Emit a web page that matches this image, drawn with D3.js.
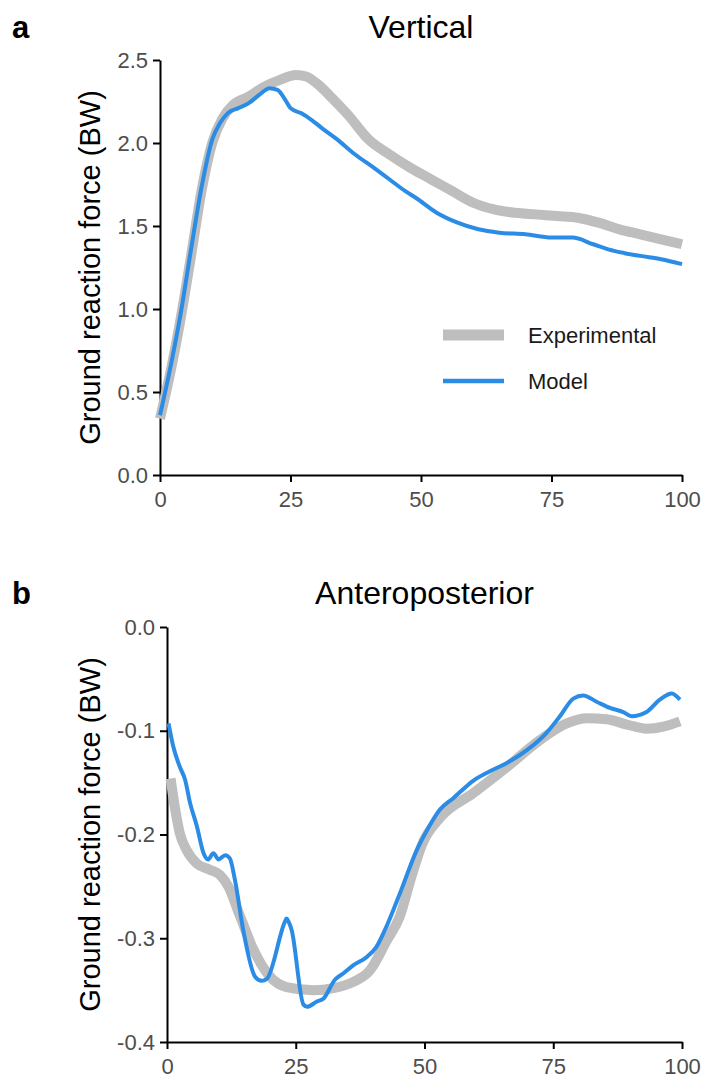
<!DOCTYPE html>
<html>
<head>
<meta charset="utf-8">
<script src="https://cdn.jsdelivr.net/npm/d3@7"></script>
<style>
  body { margin: 0; background: #fff; }
  svg { display: block; font-family: 'Liberation Sans', Arial, sans-serif; }
</style>
</head>
<body>
<div id="chart"></div>
<script>
// x ticks shared by both panels (% of stance)
const xTicks = [0, 25, 50, 75, 100]

// panel a - vertical GRF
const vertTicks = [0, 0.5, 1, 1.5, 2, 2.5]
const vertTickLabels = ['0.0', '0.5', '1.0', '1.5', '2.0', '2.5']
const vertExperimental = [
  [0, 0.34], [2, 0.62], [4, 0.95], [6, 1.33], [8, 1.72], [10, 2.00], [12, 2.15], [14, 2.23],
  [17, 2.28], [20, 2.34], [23, 2.38], [26, 2.41], [28, 2.40], [30, 2.36], [33, 2.27], [36, 2.17],
  [40, 2.02], [44, 1.93], [48, 1.85], [52, 1.78], [56, 1.71], [60, 1.64], [64, 1.60], [68, 1.58],
  [72, 1.57], [76, 1.56], [80, 1.55], [84, 1.52], [88, 1.48], [92, 1.45], [96, 1.42], [100, 1.39]
]
const vertModel = [
  [0, 0.36], [2, 0.65], [4, 0.98], [6, 1.37], [8, 1.74], [10, 2.02], [11.5, 2.12], [13, 2.18],
  [15, 2.21], [17, 2.24], [19, 2.29], [21, 2.33], [22.5, 2.32], [24, 2.26], [25, 2.21], [27, 2.18],
  [29, 2.14], [31, 2.09], [34, 2.02], [37, 1.94], [41, 1.85], [44, 1.78], [47, 1.71], [49, 1.67],
  [53, 1.58], [57, 1.52], [61, 1.48], [65, 1.46], [70, 1.45], [75, 1.43], [79, 1.43], [83, 1.39],
  [87, 1.35], [92, 1.32], [96, 1.30], [100, 1.27]
]

// panel b - anteroposterior GRF
const apTicks = [0, -0.1, -0.2, -0.3, -0.4]
const apTickLabels = ['0.0', '-0.1', '-0.2', '-0.3', '-0.4']
const apExperimental = [
  [0.7, -0.146], [1.6, -0.176], [2.5, -0.199], [3.8, -0.215], [5.8, -0.228], [8.3, -0.234],
  [10.3, -0.239], [11.9, -0.250], [14.2, -0.279], [16.8, -0.311], [20, -0.337], [23.2, -0.347],
  [28.4, -0.350], [32.3, -0.348], [36.2, -0.342], [39.4, -0.331], [42.7, -0.302], [45.2, -0.279],
  [47.5, -0.240], [49.5, -0.210], [53, -0.184], [59.5, -0.160], [66, -0.135], [72.4, -0.109],
  [77.6, -0.093], [81.5, -0.088], [85.4, -0.089], [89.3, -0.094], [93.1, -0.098], [96.4, -0.096],
  [99.6, -0.091]
]
const apModel = [
  [0.3, -0.093], [1.2, -0.115], [2.5, -0.135], [3.5, -0.147], [4.5, -0.170], [5.8, -0.192],
  [7.1, -0.218], [8, -0.224], [9, -0.218], [10, -0.224], [11.3, -0.220], [12.2, -0.223],
  [13.2, -0.244], [14.8, -0.292], [17.1, -0.337], [18.4, -0.341], [19.4, -0.339], [22.9, -0.284],
  [23.2, -0.281], [23.6, -0.284], [24.2, -0.292], [26.5, -0.364], [27.2, -0.366], [29.1, -0.361],
  [30.4, -0.358], [32.6, -0.340], [34.2, -0.334], [36.2, -0.326], [38.8, -0.318], [40.7, -0.308],
  [42.5, -0.290], [45.2, -0.257], [48.5, -0.215], [50.7, -0.194], [53, -0.176], [55.6, -0.165],
  [59.5, -0.148], [62.7, -0.139], [66, -0.131], [69.8, -0.119], [73.7, -0.102], [76.3, -0.086],
  [78.9, -0.069], [80.8, -0.066], [83.4, -0.072], [86, -0.078], [88.6, -0.082], [90.2, -0.086],
  [93.1, -0.082], [95.7, -0.070], [98, -0.064], [99.6, -0.070]
]

const size = { width: 705, height: 1080 }
const expColor = '#bebebe'
const modelColor = '#2b8ce6'

const svg = d3.select('#chart')
  .append('svg')
  .attr('width', size.width)
  .attr('height', size.height)

function drawPanel(opt) {
  const x = d3.scaleLinear().domain([0, 100]).range([opt.left, opt.right])
  const y = d3.scaleLinear().domain(opt.domain).range([opt.bottom, opt.top])
  const g = svg.append('g')

  // axes
  const xAxis = g.append('g')
    .attr('transform', `translate(0,${opt.bottom})`)
    .call(d3.axisBottom(x).tickValues(xTicks).tickSize(7).tickSizeOuter(0).tickPadding(9))
  const yAxis = g.append('g')
    .attr('transform', `translate(${opt.left},0)`)
    .call(d3.axisLeft(y).tickValues(opt.ticks).tickSize(7).tickSizeOuter(0).tickPadding(5)
      .tickFormat((d, i) => opt.tickLabels[i]))
  ;[xAxis, yAxis].forEach(a => {
    a.selectAll('path, line').attr('stroke', '#000').attr('stroke-width', 2)
    a.selectAll('text').attr('fill', '#4d4d4d').attr('font-size', 22)
  })

  // lines
  const line = d3.line()
    .x(d => x(d[0]))
    .y(d => y(d[1]))
    .curve(d3.curveMonotoneX)

  g.append('path')
    .datum(opt.experimental)
    .attr('d', line)
    .attr('fill', 'none')
    .attr('stroke', expColor)
    .attr('stroke-width', 10)
    .attr('stroke-linejoin', 'round')

  g.append('path')
    .datum(opt.model)
    .attr('d', line)
    .attr('fill', 'none')
    .attr('stroke', modelColor)
    .attr('stroke-width', 4)
    .attr('stroke-linejoin', 'round')

  // title, tag, y label
  g.append('text')
    .attr('x', (opt.left + opt.right) / 2)
    .attr('y', opt.titleY)
    .attr('text-anchor', 'middle')
    .attr('font-size', 32)
    .attr('fill', '#000')
    .text(opt.title)

  g.append('text')
    .attr('x', 12)
    .attr('y', opt.titleY)
    .attr('font-size', 31)
    .attr('font-weight', 'bold')
    .attr('fill', '#000')
    .text(opt.tag)

  g.append('text')
    .attr('transform', `translate(100,${(opt.top + opt.bottom) / 2}) rotate(-90)`)
    .attr('text-anchor', 'middle')
    .attr('font-size', 29)
    .attr('fill', '#000')
    .text('Ground reaction force (BW)')

  return { x, y, g }
}

const panelA = drawPanel({
  left: 160, right: 682, top: 60, bottom: 475,
  domain: [0, 2.5], ticks: vertTicks, tickLabels: vertTickLabels,
  experimental: vertExperimental, model: vertModel,
  title: 'Vertical', tag: 'a', titleY: 38
})

drawPanel({
  left: 167, right: 682, top: 627, bottom: 1042,
  domain: [-0.4, 0], ticks: apTicks, tickLabels: apTickLabels,
  experimental: apExperimental, model: apModel,
  title: 'Anteroposterior', tag: 'b', titleY: 604
})

// legend (only in panel a)
const legend = panelA.g.append('g').attr('transform', 'translate(443,335)')
const legendItems = [
  { label: 'Experimental', color: expColor, width: 11 },
  { label: 'Model', color: modelColor, width: 4.5 }
]
legendItems.forEach((item, i) => {
  const row = legend.append('g').attr('transform', `translate(0,${i * 46})`)
  row.append('line')
    .attr('x1', 0).attr('x2', 61)
    .attr('stroke', item.color)
    .attr('stroke-width', item.width)
  row.append('text')
    .attr('x', 85)
    .attr('dy', '0.35em')
    .attr('font-size', 22)
    .attr('fill', '#1a1a1a')
    .text(item.label)
})
</script>
</body>
</html>
